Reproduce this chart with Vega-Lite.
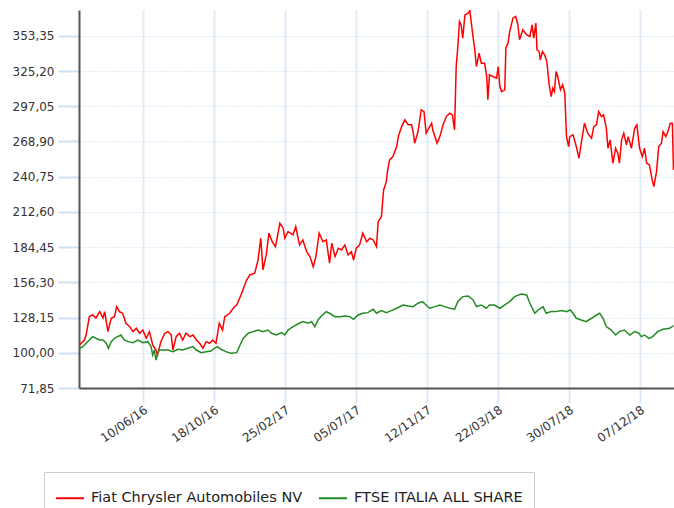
{
  "$schema": "https://vega.github.io/schema/vega-lite/v6.json",
  "width": 595,
  "height": 378,
  "autosize": {"type": "none"},
  "padding": {"left": 79, "top": 10, "right": 0, "bottom": 120},
  "background": "white",
  "config": {
    "view": {"stroke": null},
    "font": "DejaVu Sans"
  },
  "datasets": {
    "fiat": [
      {"d":"2016-02-15","v":106.2},{"d":"2016-02-24","v":110.2},{"d":"2016-02-27","v":114.2},{"d":"2016-03-04","v":128.9},{"d":"2016-03-10","v":130.2},{"d":"2016-03-16","v":127.8},{"d":"2016-03-23","v":132.9},{"d":"2016-03-29","v":127.8},{"d":"2016-04-01","v":132.9},{"d":"2016-04-07","v":116.9},{"d":"2016-04-13","v":127.6},{"d":"2016-04-19","v":128.9},{"d":"2016-04-23","v":136.9},{"d":"2016-04-28","v":132.9},{"d":"2016-05-04","v":131.6},{"d":"2016-05-10","v":123.6},{"d":"2016-05-17","v":120.9},{"d":"2016-05-23","v":116.9},{"d":"2016-05-29","v":119.6},{"d":"2016-06-04","v":115.6},{"d":"2016-06-10","v":118.2},{"d":"2016-06-16","v":111.6},{"d":"2016-06-22","v":116.9},{"d":"2016-06-28","v":106.2},{"d":"2016-07-04","v":102.2},{"d":"2016-07-07","v":98.2},{"d":"2016-07-13","v":108.9},{"d":"2016-07-20","v":115.6},{"d":"2016-07-26","v":116.9},{"d":"2016-08-01","v":114.2},{"d":"2016-08-04","v":102.2},{"d":"2016-08-10","v":112.9},{"d":"2016-08-16","v":115.6},{"d":"2016-08-22","v":110.2},{"d":"2016-08-28","v":115.6},{"d":"2016-09-04","v":112.9},{"d":"2016-09-10","v":114.2},{"d":"2016-09-16","v":110.2},{"d":"2016-09-22","v":107.6},{"d":"2016-09-28","v":103.6},{"d":"2016-10-04","v":108.9},{"d":"2016-10-10","v":107.6},{"d":"2016-10-16","v":110.2},{"d":"2016-10-22","v":107.6},{"d":"2016-10-28","v":123.6},{"d":"2016-11-03","v":118.2},{"d":"2016-11-07","v":128.9},{"d":"2016-11-16","v":131.6},{"d":"2016-11-25","v":136.9},{"d":"2016-11-29","v":138.2},{"d":"2016-12-08","v":147.6},{"d":"2016-12-17","v":158.2},{"d":"2016-12-23","v":162.2},{"d":"2017-01-01","v":163.6},{"d":"2017-01-07","v":174.2},{"d":"2017-01-12","v":191.6},{"d":"2017-01-16","v":166.2},{"d":"2017-01-22","v":178.2},{"d":"2017-01-27","v":195.6},{"d":"2017-02-02","v":188.8},{"d":"2017-02-08","v":184.8},{"d":"2017-02-16","v":203.6},{"d":"2017-02-22","v":199.6},{"d":"2017-02-25","v":191.6},{"d":"2017-03-03","v":196.8},{"d":"2017-03-12","v":194.2},{"d":"2017-03-17","v":200.8},{"d":"2017-03-24","v":186.2},{"d":"2017-03-30","v":190.2},{"d":"2017-04-06","v":180.8},{"d":"2017-04-12","v":176.9},{"d":"2017-04-18","v":168.9},{"d":"2017-04-23","v":176.9},{"d":"2017-04-29","v":195.6},{"d":"2017-05-06","v":188.8},{"d":"2017-05-12","v":190.2},{"d":"2017-05-18","v":171.6},{"d":"2017-05-22","v":187.6},{"d":"2017-05-28","v":176.9},{"d":"2017-06-03","v":183.6},{"d":"2017-06-09","v":182.2},{"d":"2017-06-15","v":186.2},{"d":"2017-06-21","v":178.2},{"d":"2017-06-27","v":180.8},{"d":"2017-07-01","v":174.2},{"d":"2017-07-06","v":183.6},{"d":"2017-07-12","v":186.2},{"d":"2017-07-18","v":195.6},{"d":"2017-07-25","v":188.8},{"d":"2017-07-31","v":191.6},{"d":"2017-08-06","v":190.2},{"d":"2017-08-12","v":184.8},{"d":"2017-08-15","v":204.8},{"d":"2017-08-21","v":208.8},{"d":"2017-08-25","v":230.2},{"d":"2017-08-30","v":236.8},{"d":"2017-09-01","v":244.8},{"d":"2017-09-05","v":254.2},{"d":"2017-09-11","v":256.8},{"d":"2017-09-18","v":264.8},{"d":"2017-09-21","v":272.8},{"d":"2017-09-27","v":280.8},{"d":"2017-10-03","v":286.2},{"d":"2017-10-09","v":282.2},{"d":"2017-10-15","v":282.2},{"d":"2017-10-18","v":276.8},{"d":"2017-10-21","v":267.5},{"d":"2017-10-27","v":276.8},{"d":"2017-11-02","v":294.2},{"d":"2017-11-07","v":292.8},{"d":"2017-11-11","v":275.5},{"d":"2017-11-16","v":279.5},{"d":"2017-11-21","v":283.5},{"d":"2017-11-23","v":278.2},{"d":"2017-12-01","v":267.5},{"d":"2017-12-06","v":272.8},{"d":"2017-12-12","v":282.2},{"d":"2017-12-18","v":288.8},{"d":"2017-12-24","v":291.5},{"d":"2017-12-29","v":290.2},{"d":"2018-01-02","v":278.2},{"d":"2018-01-05","v":328.8},{"d":"2018-01-08","v":344.8},{"d":"2018-01-11","v":364.8},{"d":"2018-01-14","v":362.2},{"d":"2018-01-17","v":351.5},{"d":"2018-01-21","v":370.1},{"d":"2018-01-27","v":371.5},{"d":"2018-01-30","v":373.6},{"d":"2018-02-04","v":355.5},{"d":"2018-02-08","v":342.2},{"d":"2018-02-11","v":328.8},{"d":"2018-02-16","v":339.5},{"d":"2018-02-20","v":331.5},{"d":"2018-02-26","v":331.5},{"d":"2018-03-02","v":320.8},{"d":"2018-03-04","v":302.2},{"d":"2018-03-07","v":322.2},{"d":"2018-03-13","v":320.8},{"d":"2018-03-20","v":319.5},{"d":"2018-03-23","v":328.8},{"d":"2018-03-26","v":312.8},{"d":"2018-03-29","v":308.8},{"d":"2018-04-04","v":310.2},{"d":"2018-04-06","v":343.5},{"d":"2018-04-10","v":347.5},{"d":"2018-04-13","v":356.8},{"d":"2018-04-19","v":367.5},{"d":"2018-04-24","v":368.8},{"d":"2018-04-28","v":362.2},{"d":"2018-05-01","v":350.2},{"d":"2018-05-07","v":358.2},{"d":"2018-05-14","v":354.2},{"d":"2018-05-20","v":352.8},{"d":"2018-05-24","v":362.2},{"d":"2018-05-27","v":351.5},{"d":"2018-05-31","v":363.5},{"d":"2018-06-02","v":342.2},{"d":"2018-06-06","v":340.8},{"d":"2018-06-08","v":334.2},{"d":"2018-06-12","v":340.8},{"d":"2018-06-16","v":338.2},{"d":"2018-06-20","v":332.8},{"d":"2018-06-24","v":315.5},{"d":"2018-06-28","v":304.8},{"d":"2018-07-01","v":311.5},{"d":"2018-07-04","v":308.8},{"d":"2018-07-07","v":324.8},{"d":"2018-07-10","v":320.8},{"d":"2018-07-15","v":310.2},{"d":"2018-07-19","v":314.2},{"d":"2018-07-23","v":307.5},{"d":"2018-07-26","v":272.8},{"d":"2018-07-30","v":264.8},{"d":"2018-08-01","v":272.8},{"d":"2018-08-07","v":274.2},{"d":"2018-08-13","v":264.8},{"d":"2018-08-18","v":255.5},{"d":"2018-08-22","v":267.5},{"d":"2018-08-28","v":283.5},{"d":"2018-09-03","v":275.5},{"d":"2018-09-10","v":271.5},{"d":"2018-09-14","v":280.8},{"d":"2018-09-19","v":282.2},{"d":"2018-09-23","v":292.8},{"d":"2018-09-28","v":288.8},{"d":"2018-10-02","v":290.2},{"d":"2018-10-07","v":279.5},{"d":"2018-10-10","v":263.5},{"d":"2018-10-14","v":270.2},{"d":"2018-10-19","v":251.5},{"d":"2018-10-24","v":263.5},{"d":"2018-10-28","v":259.5},{"d":"2018-10-31","v":251.5},{"d":"2018-11-04","v":270.2},{"d":"2018-11-08","v":275.5},{"d":"2018-11-13","v":266.2},{"d":"2018-11-16","v":272.8},{"d":"2018-11-22","v":263.5},{"d":"2018-11-28","v":279.5},{"d":"2018-12-02","v":282.2},{"d":"2018-12-07","v":263.5},{"d":"2018-12-12","v":256.8},{"d":"2018-12-16","v":263.5},{"d":"2018-12-20","v":251.5},{"d":"2018-12-25","v":250.2},{"d":"2018-12-30","v":238.2},{"d":"2019-01-02","v":232.8},{"d":"2019-01-07","v":244.8},{"d":"2019-01-11","v":264.8},{"d":"2019-01-16","v":267.5},{"d":"2019-01-19","v":276.8},{"d":"2019-01-24","v":272.8},{"d":"2019-01-28","v":276.8},{"d":"2019-02-01","v":283.5},{"d":"2019-02-05","v":283.5},{"d":"2019-02-07","v":246.2}
    ],
    "ftse": [
      {"d":"2016-02-15","v":103.6},{"d":"2016-02-21","v":104.9},{"d":"2016-02-27","v":107.6},{"d":"2016-03-04","v":110.2},{"d":"2016-03-10","v":112.9},{"d":"2016-03-16","v":111.6},{"d":"2016-03-23","v":110.2},{"d":"2016-03-29","v":110.2},{"d":"2016-04-04","v":107.6},{"d":"2016-04-08","v":103.6},{"d":"2016-04-13","v":108.9},{"d":"2016-04-19","v":111.6},{"d":"2016-04-25","v":112.9},{"d":"2016-05-01","v":114.2},{"d":"2016-05-07","v":110.2},{"d":"2016-05-14","v":108.9},{"d":"2016-05-23","v":108.1},{"d":"2016-06-01","v":110.2},{"d":"2016-06-10","v":108.1},{"d":"2016-06-19","v":108.9},{"d":"2016-06-25","v":104.9},{"d":"2016-06-28","v":98.2},{"d":"2016-07-01","v":102.2},{"d":"2016-07-04","v":94.2},{"d":"2016-07-07","v":99.6},{"d":"2016-07-10","v":102.2},{"d":"2016-07-17","v":102.2},{"d":"2016-07-26","v":102.2},{"d":"2016-08-04","v":100.9},{"d":"2016-08-13","v":102.8},{"d":"2016-08-22","v":102.2},{"d":"2016-08-31","v":103.6},{"d":"2016-09-10","v":104.9},{"d":"2016-09-16","v":102.2},{"d":"2016-09-25","v":100.1},{"d":"2016-10-04","v":100.9},{"d":"2016-10-13","v":101.4},{"d":"2016-10-19","v":103.6},{"d":"2016-10-25","v":104.9},{"d":"2016-10-31","v":102.8},{"d":"2016-11-09","v":100.9},{"d":"2016-11-18","v":99.6},{"d":"2016-11-29","v":100.1},{"d":"2016-12-05","v":106.2},{"d":"2016-12-11","v":111.6},{"d":"2016-12-20","v":115.6},{"d":"2016-12-29","v":116.9},{"d":"2017-01-07","v":118.2},{"d":"2017-01-16","v":116.9},{"d":"2017-01-25","v":118.2},{"d":"2017-02-01","v":115.6},{"d":"2017-02-10","v":114.2},{"d":"2017-02-19","v":116.1},{"d":"2017-02-25","v":114.2},{"d":"2017-03-03","v":118.2},{"d":"2017-03-12","v":120.9},{"d":"2017-03-21","v":123.0},{"d":"2017-03-30","v":124.9},{"d":"2017-04-09","v":123.6},{"d":"2017-04-15","v":124.9},{"d":"2017-04-21","v":120.9},{"d":"2017-04-27","v":126.2},{"d":"2017-05-03","v":129.4},{"d":"2017-05-12","v":132.9},{"d":"2017-05-18","v":131.6},{"d":"2017-05-28","v":128.9},{"d":"2017-06-06","v":128.9},{"d":"2017-06-15","v":129.4},{"d":"2017-06-24","v":128.9},{"d":"2017-07-01","v":126.8},{"d":"2017-07-09","v":130.2},{"d":"2017-07-18","v":131.6},{"d":"2017-07-27","v":132.1},{"d":"2017-08-06","v":134.8},{"d":"2017-08-12","v":131.6},{"d":"2017-08-21","v":133.7},{"d":"2017-08-30","v":132.1},{"d":"2017-09-08","v":133.7},{"d":"2017-09-18","v":135.6},{"d":"2017-09-30","v":138.2},{"d":"2017-10-09","v":137.4},{"d":"2017-10-18","v":136.9},{"d":"2017-10-27","v":139.6},{"d":"2017-11-04","v":140.9},{"d":"2017-11-11","v":138.2},{"d":"2017-11-17","v":135.6},{"d":"2017-11-27","v":136.9},{"d":"2017-12-06","v":138.2},{"d":"2017-12-15","v":136.9},{"d":"2017-12-24","v":135.6},{"d":"2018-01-02","v":134.8},{"d":"2018-01-08","v":140.9},{"d":"2018-01-17","v":144.9},{"d":"2018-01-27","v":145.4},{"d":"2018-02-05","v":142.2},{"d":"2018-02-11","v":136.9},{"d":"2018-02-20","v":138.2},{"d":"2018-03-01","v":135.6},{"d":"2018-03-07","v":138.2},{"d":"2018-03-16","v":138.2},{"d":"2018-03-26","v":135.6},{"d":"2018-04-04","v":138.2},{"d":"2018-04-13","v":140.9},{"d":"2018-04-22","v":144.9},{"d":"2018-05-04","v":147.0},{"d":"2018-05-14","v":146.2},{"d":"2018-05-20","v":139.6},{"d":"2018-05-29","v":131.6},{"d":"2018-06-04","v":134.2},{"d":"2018-06-13","v":136.9},{"d":"2018-06-19","v":131.6},{"d":"2018-06-28","v":132.9},{"d":"2018-07-07","v":132.9},{"d":"2018-07-17","v":133.7},{"d":"2018-07-26","v":132.9},{"d":"2018-08-02","v":134.2},{"d":"2018-08-07","v":131.6},{"d":"2018-08-13","v":127.6},{"d":"2018-08-22","v":126.2},{"d":"2018-08-31","v":124.9},{"d":"2018-09-10","v":127.6},{"d":"2018-09-19","v":130.2},{"d":"2018-09-25","v":131.6},{"d":"2018-10-01","v":127.6},{"d":"2018-10-07","v":120.9},{"d":"2018-10-16","v":118.2},{"d":"2018-10-24","v":114.2},{"d":"2018-10-31","v":116.9},{"d":"2018-11-09","v":118.2},{"d":"2018-11-19","v":114.2},{"d":"2018-11-28","v":116.9},{"d":"2018-12-06","v":115.6},{"d":"2018-12-10","v":112.9},{"d":"2018-12-16","v":114.2},{"d":"2018-12-24","v":111.6},{"d":"2018-12-31","v":112.9},{"d":"2019-01-09","v":116.9},{"d":"2019-01-19","v":118.8},{"d":"2019-01-31","v":119.6},{"d":"2019-02-07","v":121.7}
    ]
  },
  "encoding": {
    "x": {
      "field": "d",
      "type": "temporal",
      "title": null,
      "scale": {
        "type": "utc",
        "domain": [
          {"year": 2016, "month": 2, "date": 14, "utc": true},
          {"year": 2019, "month": 2, "date": 8, "utc": true}
        ]
      },
      "axis": {
        "values": [
          {"year": 2016, "month": 6, "date": 10, "utc": true},
          {"year": 2016, "month": 10, "date": 18, "utc": true},
          {"year": 2017, "month": 2, "date": 25, "utc": true},
          {"year": 2017, "month": 7, "date": 5, "utc": true},
          {"year": 2017, "month": 11, "date": 12, "utc": true},
          {"year": 2018, "month": 3, "date": 22, "utc": true},
          {"year": 2018, "month": 7, "date": 30, "utc": true},
          {"year": 2018, "month": 12, "date": 7, "utc": true}
        ],
        "labelExpr": "utcFormat(datum.value, '%d/%m/%y')",
        "labelAngle": -35,
        "labelFont": "DejaVu Sans",
        "labelFontSize": 12,
        "labelColor": "#333333",
        "labelPadding": 1,
        "labelOverlap": false,
        "domainColor": "#555555",
        "domainWidth": 2,
        "tickColor": "#dce8f7",
        "tickSize": 15,
        "tickWidth": 2,
        "grid": true,
        "gridColor": "#e1ebf8",
        "gridWidth": 2
      }
    },
    "y": {
      "field": "v",
      "type": "quantitative",
      "title": null,
      "scale": {"domain": [71.85, 374], "nice": false, "zero": false},
      "axis": {
        "values": [71.85, 100, 128.15, 156.3, 184.45, 212.6, 240.75, 268.9, 297.05, 325.2, 353.35],
        "labelExpr": "replace(format(datum.value, '.2f'), '.', ',')",
        "labelFont": "DejaVu Sans",
        "labelFontSize": 12,
        "labelColor": "#333333",
        "labelPadding": 4,
        "domainColor": "#555555",
        "domainWidth": 2,
        "tickColor": "#cfe0f5",
        "tickSize": 21,
        "tickWidth": 2,
        "grid": true,
        "gridColor": "#c4d8f2",
        "gridDash": [1, 2],
        "gridWidth": 1
      }
    },
    "color": {
      "type": "nominal",
      "scale": {
        "domain": ["Fiat Chrysler Automobiles NV", "FTSE ITALIA ALL SHARE"],
        "range": ["#ff0000", "#228b22"]
      },
      "legend": {
        "title": null,
        "orient": "none",
        "legendX": -35,
        "legendY": 462,
        "direction": "horizontal",
        "strokeColor": "#cccccc",
        "fillColor": "white",
        "padding": 11,
        "symbolType": "stroke",
        "symbolSize": 784,
        "symbolStrokeWidth": 2,
        "labelFont": "DejaVu Sans",
        "labelFontSize": 14.5,
        "labelColor": "#222222",
        "labelOffset": 6,
        "columnPadding": 12,
        "labelLimit": 400
      }
    }
  },
  "layer": [
    {
      "data": {"name": "fiat"},
      "mark": {"type": "line", "strokeWidth": 1.5, "clip": true},
      "encoding": {"color": {"datum": "Fiat Chrysler Automobiles NV"}}
    },
    {
      "data": {"name": "ftse"},
      "mark": {"type": "line", "strokeWidth": 1.5, "clip": true},
      "encoding": {"color": {"datum": "FTSE ITALIA ALL SHARE"}}
    }
  ]
}
